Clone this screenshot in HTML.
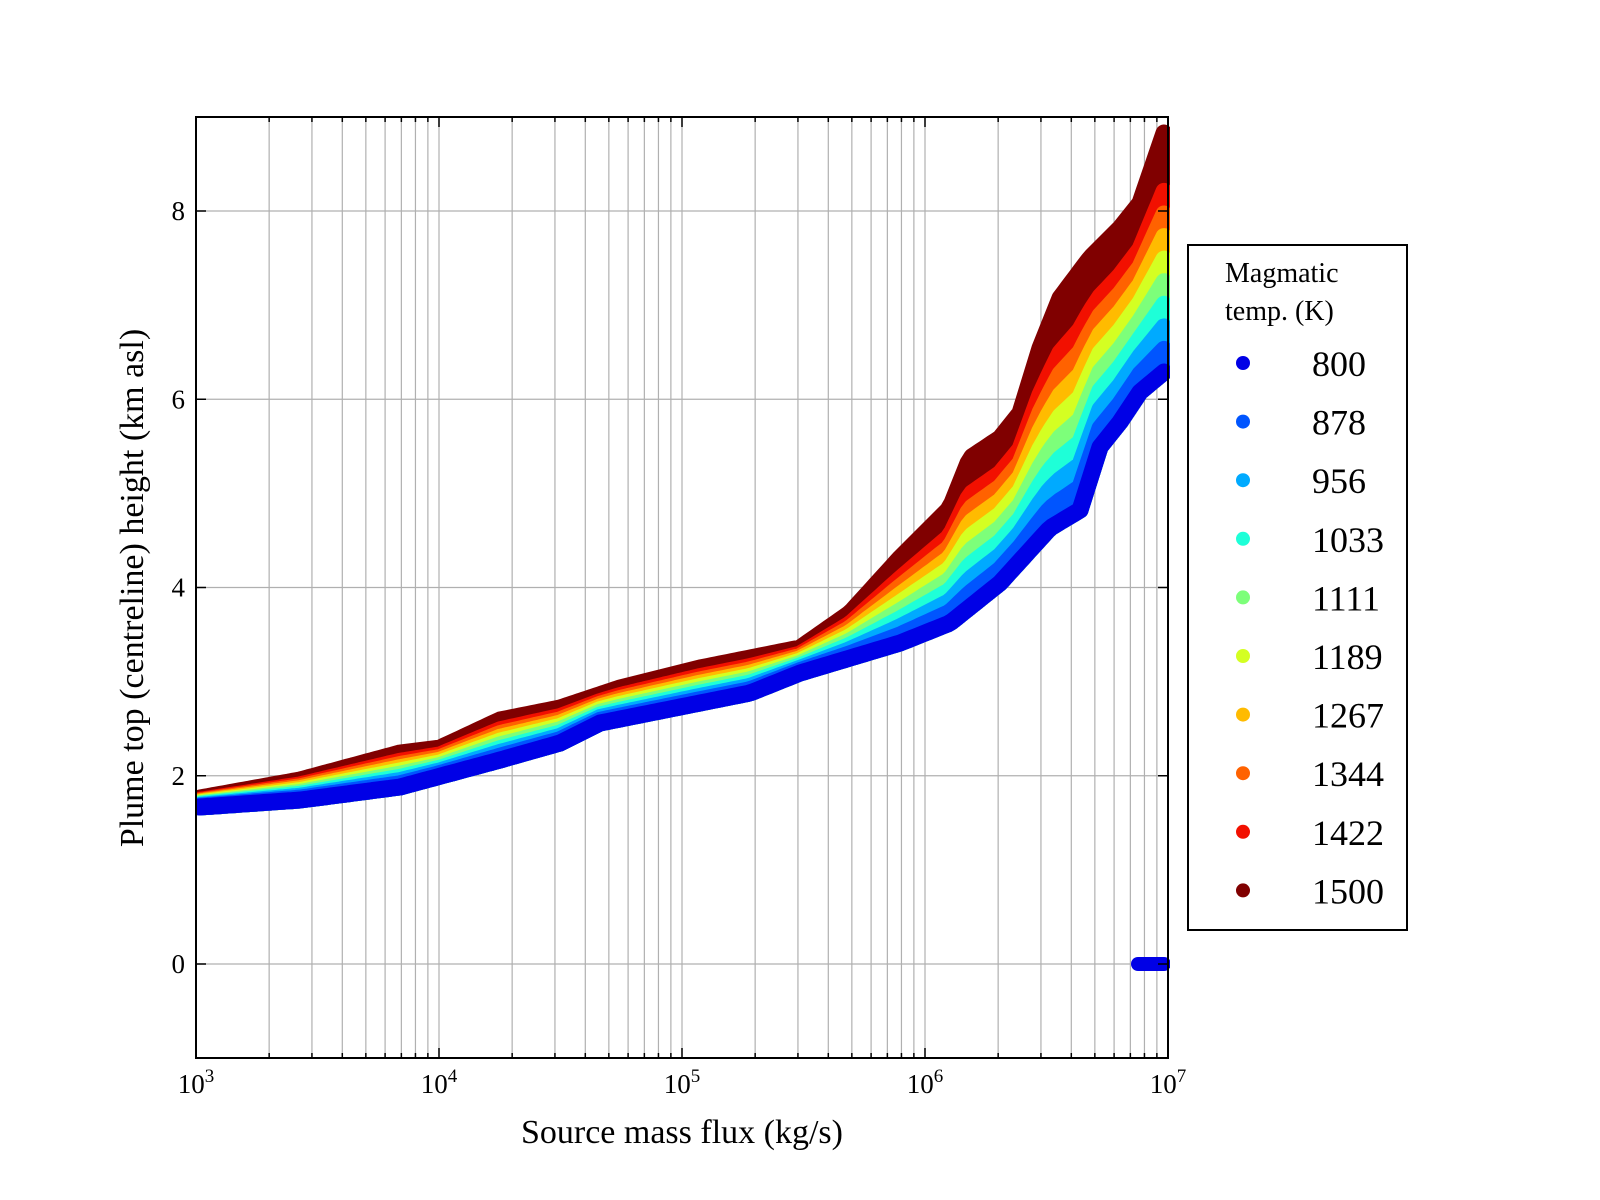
<!DOCTYPE html>
<html><head><meta charset="utf-8">
<style>
html,body{margin:0;padding:0;background:#fff;}
svg{display:block;font-family:"Liberation Serif",serif;}
</style></head>
<body>
<svg id="s" width="1600" height="1200" xmlns="http://www.w3.org/2000/svg">
<defs><clipPath id="cp"><rect x="196" y="117" width="974" height="941"/></clipPath></defs>
<rect width="1600" height="1200" fill="#fff"/>
<g id="grid" stroke="#b0b0b0" stroke-width="1.2"></g>
<g id="data" clip-path="url(#cp)"></g>
<rect x="196" y="117" width="972" height="941" fill="none" stroke="#000" stroke-width="2"/>
<g id="ticks" stroke="#000" stroke-width="1.5"></g>
<g id="labels" font-size="27" fill="#000"></g>
<text x="682" y="1143" font-size="34" text-anchor="middle">Source mass flux (kg/s)</text>
<text transform="translate(143,588) rotate(-90)" font-size="34" text-anchor="middle">Plume top (centreline) height (km asl)</text>
<rect x="1188" y="245" width="219" height="685" fill="#fff" stroke="#000" stroke-width="2"/>
<text x="1225" y="282" font-size="28">Magmatic</text>
<text x="1225" y="320" font-size="28">temp. (K)</text>
<g id="legend" font-size="36"></g>
</svg>
<script>
(function(){
const NS="http://www.w3.org/2000/svg";
function el(t,a,p,txt){const e=document.createElementNS(NS,t);for(const k in a)e.setAttribute(k,a[k]);if(txt!==undefined)e.textContent=txt;document.getElementById(p).appendChild(e);return e;}
const X=v=>196+(v-3)*243, Y=v=>964-v*94.125;
for(let d=3;d<7;d++)for(let m=1;m<=9;m++){const x=X(d+Math.log10(m));if(x>196&&x<1168){el('line',{x1:x,y1:117,x2:x,y2:1058},'grid');}}
for(let v=0;v<=8;v+=2){el('line',{x1:196,y1:Y(v),x2:1168,y2:Y(v)},'grid');}
for(let d=3;d<=7;d++){const x=X(d);el('line',{x1:x,y1:1058,x2:x,y2:1048},'ticks');el('line',{x1:x,y1:117,x2:x,y2:127},'ticks');
 const t=el('text',{x:x,y:1093,'text-anchor':'middle'},'labels');t.innerHTML='10<tspan font-size="19" dy="-11">'+d+'</tspan>';}
for(let d=3;d<7;d++)for(let m=2;m<=9;m++){const x=X(d+Math.log10(m));el('line',{x1:x,y1:1058,x2:x,y2:1053},'ticks');el('line',{x1:x,y1:117,x2:x,y2:122},'ticks');}
for(let v=0;v<=8;v+=2){el('line',{x1:196,y1:Y(v),x2:206,y2:Y(v)},'ticks');el('line',{x1:1168,y1:Y(v),x2:1158,y2:Y(v)},'ticks');el('text',{x:185,y:Y(v)+9,'text-anchor':'end'},'labels',String(v));}
const topC=[[200,798],[300,780],[400,753],[440,748],[500,720],[560,708],[620,688],[700,668],[800,648],[850,613],[900,558],[950,508],[970,458],[1000,438],[1020,413],[1040,348],[1060,298],[1090,258],[1120,228],[1140,203],[1164,133]];
const botC=[[200,807],[300,800],[400,787],[500,760],[560,743],[600,723],[700,703],[750,693],[800,673],[900,643],[950,623],[1000,583],[1050,528],[1080,510],[1100,447],[1120,422],[1140,392],[1164,372]];
function interp(pts,x){for(let i=0;i<pts.length-1;i++){if(x<=pts[i+1][0]){const x0=pts[i][0],y0=pts[i][1],x1=pts[i+1][0],y1=pts[i+1][1];return y0+(y1-y0)*(x-x0)/(x1-x0);}}return pts[pts.length-1][1];}
const cols=['#0000e6','#0055ff','#00aaff','#1effd8','#7dff7a','#d4ff22','#ffbb00','#ff6200','#f21000','#800000'];
const temps=['800','878','956','1033','1111','1189','1267','1344','1422','1500'];
for(let k=9;k>=0;k--){const f=k==9?1:k/9*0.85;let up=[],dn=[];
 for(let x=200;x<=1164;x+=4){const yb=interp(botC,x),yt=interp(topC,x);up.push(x+','+(yb+(yt-yb)*f).toFixed(1));dn.push(x+','+yb.toFixed(1));}
 const pts=up.concat(dn.reverse()).join(' ');
 el('polygon',{points:pts,fill:cols[k],stroke:cols[k],'stroke-width':17,'stroke-linejoin':'round'},'data');}
el('line',{x1:1138,y1:964,x2:1164,y2:964,stroke:'#0000e6','stroke-width':14,'stroke-linecap':'round'},'data');
for(let i=0;i<10;i++){const y=363+i*58.6;el('circle',{cx:1243,cy:y,r:7,fill:cols[i]},'legend');el('text',{x:1312,y:y+13},'legend',temps[i]);}
})();
</script>
</body></html>
